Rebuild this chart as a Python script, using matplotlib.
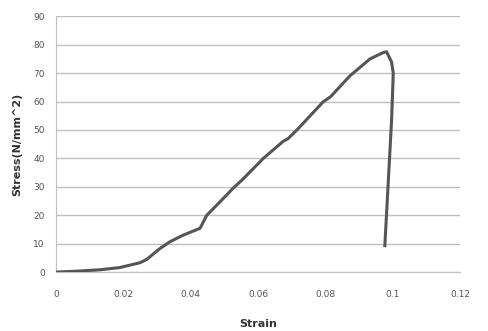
import matplotlib
matplotlib.use("Agg")
import matplotlib.pyplot as plt

strain = [0.0, 0.006, 0.013, 0.019, 0.025, 0.027, 0.0309, 0.0339, 0.0378, 0.0428,
          0.0448, 0.0497, 0.0527, 0.0552, 0.0616, 0.0675, 0.069, 0.0715, 0.0794,
          0.0816, 0.0873, 0.0933, 0.0972, 0.0982, 0.0997, 0.1002, 0.0997, 0.0977]
stress = [0.0, 0.3, 0.8, 1.6, 3.3, 4.5, 8.3, 10.7, 13.0, 15.4,
          20.0, 25.9, 29.6, 32.3, 40.0, 46.0, 47.0, 49.9, 59.9,
          61.7, 69.0, 75.0, 77.2, 77.5, 73.9, 70.0, 53.4, 9.3]

xticks = [0, 0.02, 0.04, 0.06, 0.08, 0.1, 0.12]
xticklabels = ["0", "0.02", "0.04", "0.06", "0.08", "0.1", "0.12"]
yticks = [0, 10, 20, 30, 40, 50, 60, 70, 80, 90]

fig = plt.figure(figsize=(4.89, 3.31), dpi=100)
ax = fig.add_axes([0.1145, 0.178, 0.826, 0.773])
ax.plot(strain, stress, color="#555555", lw=2.2, solid_joinstyle="round", zorder=3)
ax.set_xlim(0, 0.12)
ax.set_ylim(0, 90)
ax.set_xticks(xticks)
ax.set_xticklabels(xticklabels)
ax.set_yticks(yticks)
ax.yaxis.grid(True, color="#bfbfbf", lw=1)
ax.set_axisbelow(True)
for s in ["top", "right"]:
    ax.spines[s].set_visible(False)
ax.spines["left"].set_color("#bfbfbf")
ax.spines["bottom"].set_color("#bfbfbf")
ax.tick_params(length=0, labelsize=6.5, labelcolor="#555555", pad=8)
ax.tick_params(axis="x", pad=13)
ax.set_xlabel("Strain", fontsize=8, fontweight="bold", color="#333333", labelpad=14)
ax.set_ylabel("Stress(N/mm^2)", fontsize=8, fontweight="bold", color="#333333", labelpad=8)
fig.savefig("out.png", dpi=100)
